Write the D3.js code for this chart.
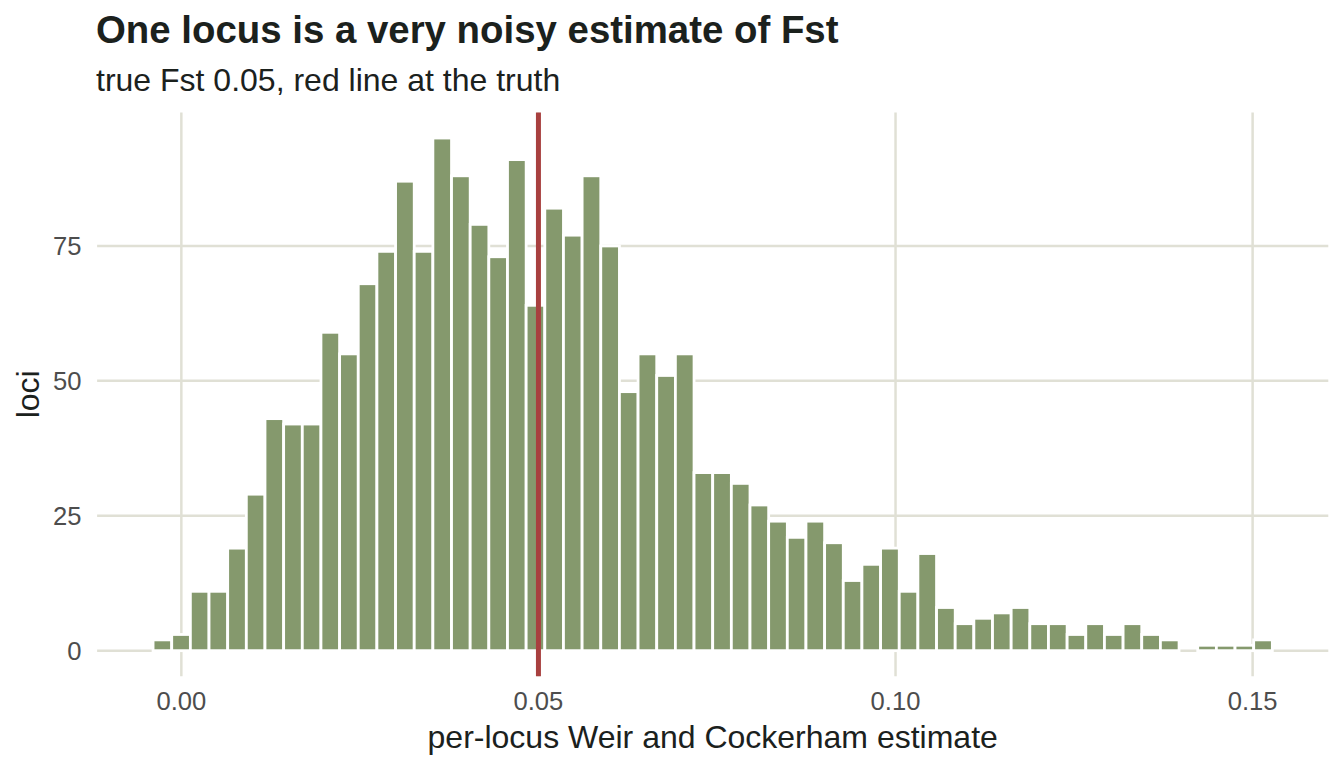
<!DOCTYPE html>
<html>
<head>
<meta charset="utf-8">
<script src="https://cdn.jsdelivr.net/npm/d3@7"></script>
<style>
	body { margin: 0; background: #fff; }
	svg { display: block; font-family: "Liberation Sans", Arial, Helvetica, sans-serif; }
	.grid line { stroke: #e0e0d5; stroke-width: 2.5; }
	.bar { fill: #85996d; stroke: #fff; stroke-width: 2.8; }
	.tick-label { fill: #4d4d4d; font-size: 25.6px; }
	.axis-title { fill: #1b211d; font-size: 32px; }
</style>
</head>
<body>
<svg id="chart" width="1344" height="768"></svg>
<script>
"use strict";

// histogram of per-locus estimates, 60 bins
var bin_start = -0.00396;
var bin_width = 0.002612;
var counts = [
	2, 3, 11, 11, 19, 29, 43, 42, 42, 59,
	55, 68, 74, 87, 74, 95, 88, 79, 73, 91,
	64, 82, 77, 88, 75, 48, 55, 51, 55, 33,
	33, 31, 27, 24, 21, 24, 20, 13, 16, 19,
	11, 18, 8, 5, 6, 7, 8, 5, 5, 3,
	5, 3, 5, 3, 2, 0, 1, 1, 1, 2
];
var x_ticks = [0, 0.05, 0.10, 0.15];
var x_tick_labels = ['0.00', '0.05', '0.10', '0.15'];
var y_ticks = [0, 25, 50, 75];
var true_fst = 0.05;

var title = 'One locus is a very noisy estimate of Fst';
var subtitle = 'true Fst 0.05, red line at the truth';
var x_title = 'per-locus Weir and Cockerham estimate';
var y_title = 'loci';

var panel = { left: 97.1, right: 1328.3, top: 112.4, bottom: 676.3 };

var bins = counts.map(function(c, i) {
	return { x0: bin_start + i * bin_width, x1: bin_start + (i + 1) * bin_width, n: c };
});

//ggplot style 5% expansion on both axes
var x_min = bins[0].x0, x_max = bins[bins.length - 1].x1;
var x_pad = (x_max - x_min) * 0.05;
var y_max = d3.max(counts);
var y_pad = y_max * 0.05;

var x = d3.scaleLinear()
	.domain([x_min - x_pad, x_max + x_pad])
	.range([panel.left, panel.right]);
var y = d3.scaleLinear()
	.domain([-y_pad, y_max + y_pad])
	.range([panel.bottom, panel.top]);

var svg = d3.select('#chart');

//gridlines
var grid = svg.append('g').attr('class', 'grid');
grid.selectAll('.gy').data(y_ticks).enter().append('line')
	.attr('x1', panel.left).attr('x2', panel.right)
	.attr('y1', function(d) { return y(d); })
	.attr('y2', function(d) { return y(d); });
grid.selectAll('.gx').data(x_ticks).enter().append('line')
	.attr('y1', panel.top).attr('y2', panel.bottom)
	.attr('x1', function(d) { return x(d); })
	.attr('x2', function(d) { return x(d); });

//bars
svg.append('g').selectAll('.bar').data(bins.filter(function(d) { return d.n > 0; }))
	.enter().append('rect')
	.attr('class', 'bar')
	.attr('x', function(d) { return x(d.x0); })
	.attr('width', function(d) { return x(d.x1) - x(d.x0); })
	.attr('y', function(d) { return y(d.n); })
	.attr('height', function(d) { return y(0) - y(d.n); });

//line at the truth
svg.append('line')
	.attr('x1', x(true_fst)).attr('x2', x(true_fst))
	.attr('y1', panel.top).attr('y2', panel.bottom)
	.style('stroke', '#a8403f')
	.style('stroke-width', 5);

//tick labels
svg.append('g').selectAll('text').data(y_ticks).enter().append('text')
	.attr('class', 'tick-label')
	.attr('x', 81.5)
	.attr('y', function(d) { return y(d); })
	.attr('dy', '0.36em')
	.attr('text-anchor', 'end')
	.text(function(d) { return d; });

svg.append('g').selectAll('text').data(x_ticks).enter().append('text')
	.attr('class', 'tick-label')
	.attr('x', function(d) { return x(d); })
	.attr('y', 710)
	.attr('text-anchor', 'middle')
	.text(function(d, i) { return x_tick_labels[i]; });

//axis titles
svg.append('text')
	.attr('class', 'axis-title')
	.attr('x', (panel.left + panel.right) / 2)
	.attr('y', 748)
	.attr('text-anchor', 'middle')
	.text(x_title);

svg.append('text')
	.attr('class', 'axis-title')
	.attr('transform', 'translate(38.5,' + (panel.top + panel.bottom) / 2 + ') rotate(-90)')
	.attr('text-anchor', 'middle')
	.text(y_title);

//title and subtitle
svg.append('text')
	.attr('x', 96)
	.attr('y', 43)
	.style('font-size', '38.4px')
	.style('font-weight', 'bold')
	.style('fill', '#1b211d')
	.text(title);

svg.append('text')
	.attr('x', 96)
	.attr('y', 91)
	.style('font-size', '32px')
	.style('fill', '#1b211d')
	.text(subtitle);
</script>
</body>
</html>
